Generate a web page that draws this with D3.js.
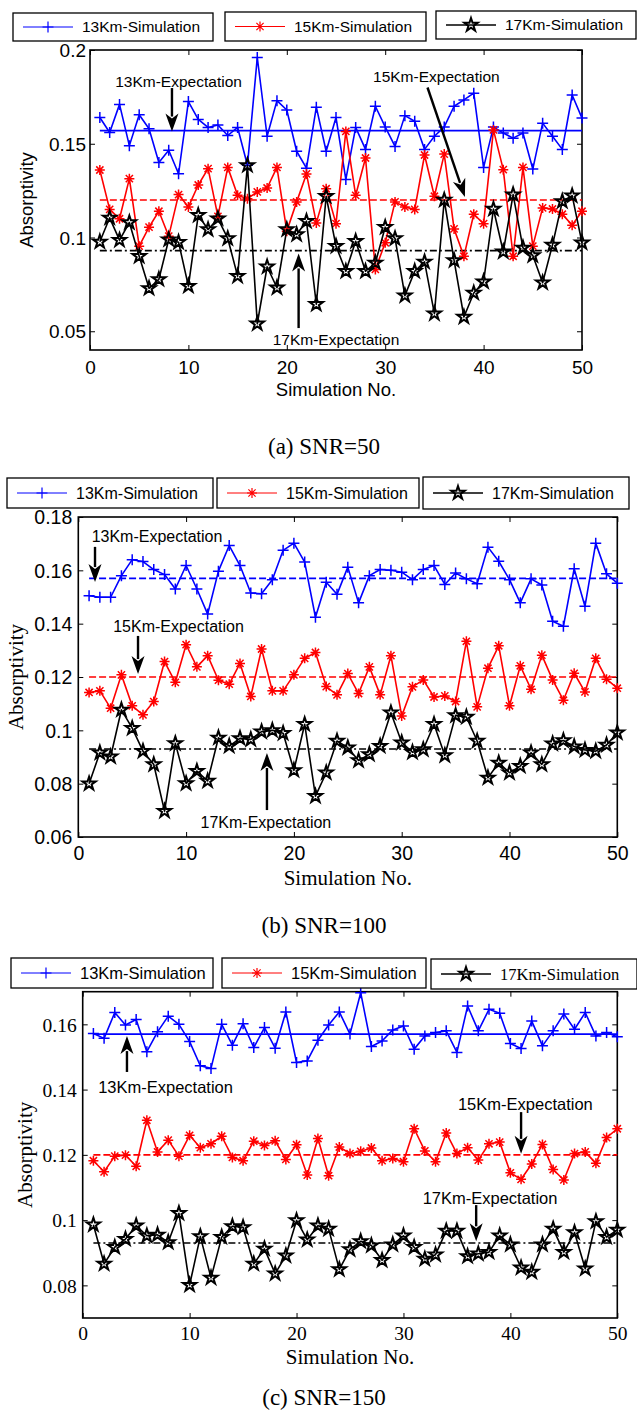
<!DOCTYPE html>
<html>
<head>
<meta charset="utf-8">
<script src="https://cdn.jsdelivr.net/npm/d3@7"></script>
<style>
  body { margin: 0; background: #fff; }
  svg { display: block; }
</style>
</head>
<body>
<div id="chart"></div>
<script>

// ---- data ----
const simNo = d3.range(1, 51);
const xTicks = [0, 10, 20, 30, 40, 50];
const seriesNames = ["13Km-Simulation", "15Km-Simulation", "17Km-Simulation"];
const expectNames = ["13Km-Expectation", "15Km-Expectation", "17Km-Expectation"];
const expectation = [0.157, 0.12, 0.093];
const captions = ["(a) SNR=50", "(b) SNR=100", "(c) SNR=150"];

// (a) SNR=50
const snr50_13 = [0.164,0.156,0.171,0.149,0.1655,0.158,0.14,0.1465,0.134,0.1725,0.163,0.1587,0.160,0.1544,0.1587,0.1385,0.196,0.154,0.173,0.168,0.146,0.137,0.1695,0.146,0.164,0.131,0.1587,0.147,0.170,0.159,0.1486,0.165,0.162,0.147,0.154,0.159,0.170,0.1734,0.177,0.1374,0.159,0.1557,0.153,0.1557,0.1365,0.161,0.154,0.147,0.176,0.1637];
const snr50_15 = [0.136,0.115,0.110,0.1314,0.0954,0.1055,0.114,0.1007,0.1229,0.1163,0.128,0.1367,0.1113,0.1374,0.1225,0.1207,0.1243,0.1264,0.1374,0.1034,0.119,0.1339,0.1078,0.126,0.1074,0.1566,0.1225,0.1424,0.083,0.0972,0.119,0.1163,0.115,0.144,0.122,0.1445,0.1046,0.090,0.1124,0.1074,0.1574,0.1362,0.090,0.1374,0.0954,0.1158,0.1152,0.1124,0.1066,0.114];
const snr50_17 = [0.0977,0.1105,0.0986,0.108,0.090,0.0729,0.0777,0.0989,0.0975,0.0741,0.1119,0.1043,0.1101,0.0995,0.0794,0.1385,0.054,0.0844,0.0732,0.1043,0.1016,0.1087,0.0644,0.122,0.0954,0.082,0.098,0.082,0.0865,0.1055,0.0995,0.069,0.082,0.087,0.0594,0.120,0.0878,0.0576,0.0704,0.0764,0.1152,0.0924,0.1229,0.0945,0.0904,0.0759,0.096,0.1193,0.1223,0.0972];

// (b) SNR=100
const snr100_13 = [0.1505,0.1499,0.1499,0.158,0.164,0.1633,0.1603,0.1584,0.153,0.1618,0.153,0.1436,0.1597,0.1693,0.1618,0.1515,0.1512,0.1565,0.1675,0.1702,0.1631,0.1424,0.1555,0.151,0.1612,0.1478,0.158,0.1603,0.160,0.1593,0.1565,0.1603,0.1618,0.1547,0.159,0.1568,0.155,0.1687,0.1634,0.1565,0.1478,0.1568,0.1545,0.1409,0.139,0.1606,0.1465,0.1702,0.1587,0.1552];
const snr100_15 = [0.1142,0.1148,0.1083,0.1208,0.1092,0.1058,0.1108,0.1258,0.118,0.1321,0.1238,0.128,0.1188,0.1173,0.1251,0.1127,0.1305,0.1148,0.1148,0.1208,0.127,0.1292,0.1164,0.1133,0.1213,0.1138,0.1238,0.1133,0.128,0.1054,0.1163,0.1189,0.1125,0.1129,0.1108,0.1334,0.1088,0.1233,0.1317,0.1092,0.1242,0.1154,0.1282,0.1189,0.1113,0.1214,0.1144,0.127,0.1192,0.1158];
const snr100_17 = [0.080,0.0916,0.0901,0.1077,0.1008,0.0922,0.0872,0.0697,0.0951,0.0801,0.0847,0.081,0.0972,0.0941,0.097,0.0966,0.0995,0.100,0.0989,0.085,0.1023,0.0753,0.0841,0.096,0.0935,0.0887,0.091,0.0941,0.1066,0.0954,0.0918,0.0928,0.1023,0.0906,0.1056,0.105,0.096,0.0822,0.0878,0.0841,0.0866,0.0916,0.0872,0.095,0.0962,0.0939,0.0926,0.0922,0.0945,0.0991];

// (c) SNR=150
const snr150_13 = [0.1572,0.1557,0.1636,0.1598,0.1615,0.1516,0.1577,0.1625,0.160,0.1547,0.1473,0.1465,0.160,0.1536,0.1602,0.1529,0.159,0.1527,0.1638,0.1483,0.1488,0.1551,0.1598,0.1638,0.157,0.1697,0.1532,0.1549,0.1583,0.1595,0.1524,0.1564,0.1575,0.158,0.1514,0.1656,0.158,0.1646,0.1634,0.1541,0.1526,0.161,0.1534,0.158,0.1632,0.1585,0.1636,0.1564,0.1575,0.1562];
const snr150_15 = [0.1182,0.1148,0.1196,0.1199,0.1165,0.1306,0.1209,0.1245,0.1196,0.126,0.1222,0.1234,0.1257,0.1192,0.1182,0.1242,0.1229,0.1243,0.1186,0.1231,0.1138,0.125,0.1136,0.1224,0.1204,0.1211,0.1221,0.1182,0.1189,0.1179,0.128,0.1212,0.1179,0.1267,0.1204,0.1222,0.1184,0.1234,0.1239,0.1145,0.1125,0.1172,0.1232,0.1155,0.1123,0.1204,0.1209,0.1174,0.1253,0.128];
const snr150_17 = [0.0986,0.0866,0.0917,0.0942,0.0983,0.0952,0.0955,0.0932,0.1021,0.0801,0.095,0.0823,0.0948,0.0981,0.0978,0.0866,0.0912,0.0836,0.0891,0.0999,0.094,0.0983,0.0973,0.0849,0.091,0.0935,0.0922,0.0877,0.0925,0.0952,0.0917,0.0881,0.0894,0.0967,0.0967,0.0889,0.0897,0.0902,0.0952,0.0925,0.0854,0.0841,0.0925,0.0973,0.0902,0.0962,0.0851,0.0996,0.0948,0.097];

const yTicksA = [0.05, 0.1, 0.15, 0.2];
const yTicksB = [0.06, 0.08, 0.1, 0.12, 0.14, 0.16, 0.18];
const yTicksC = [0.08, 0.1, 0.12, 0.14, 0.16];

// annotation text centre and arrow start/end, in data units (sim no, absorptivity)
const notesA = [
  { tx: 9.0, ty: 0.183, x1: 8.33, y1: 0.1797, x2: 8.33, y2: 0.1565 },
  { tx: 35.2, ty: 0.1856, x1: 34.3, y1: 0.180, x2: 38.1, y2: 0.1216 },
  { tx: 25.0, ty: 0.0453, x1: 21.2, y1: 0.0517, x2: 21.2, y2: 0.0915 }
];
const notesB = [
  { tx: 7.3, ty: 0.1729, x1: 1.55, y1: 0.1688, x2: 1.55, y2: 0.1556 },
  { tx: 9.3, ty: 0.1388, x1: 5.54, y1: 0.1354, x2: 5.54, y2: 0.1211 },
  { tx: 17.4, ty: 0.0656, x1: 17.5, y1: 0.0701, x2: 17.5, y2: 0.0915 }
];
const notesC = [
  { tx: 7.75, ty: 0.1408, x1: 4.14, y1: 0.1454, x2: 4.14, y2: 0.1564 },
  { tx: 41.4, ty: 0.1356, x1: 41.0, y1: 0.1331, x2: 41.0, y2: 0.1203 },
  { tx: 38.1, ty: 0.1068, x1: 36.8, y1: 0.1046, x2: 36.8, y2: 0.0935 }
];

// ---- layout / styles ----
const SANS = "'Liberation Sans', Arial, sans-serif";
const SERIF = "'Liberation Serif', 'Times New Roman', serif";
const colors = ["#0000ff", "#ff0000", "#000000"];
const dashes = { solid: null, dash: "7,3", dashdot: "7,3,2,3" };

const panels = [
  {
    series: [snr50_13, snr50_15, snr50_17], notes: notesA,
    yDomain: [0.04, 0.2], yTicks: yTicksA,
    box: { l: 90, r: 582, t: 50, b: 350 },
    expStyle: ["solid", "dash", "dashdot"],
    tickFont: SANS, tickSize: 19, yTickGap: 4, xTickDy: 17,
    labelFont: SANS, labelSize: 18.5, ylabelX: 27, xlabelY: 390,
    legend: [[13, 13, 200, 28], [225, 12, 201, 29], [436, 11, 200, 28]],
    legendFont: [SANS, SANS, SANS], legendSize: 15.5,
    noteSize: 15.5, captionY: 446
  },
  {
    series: [snr100_13, snr100_15, snr100_17], notes: notesB,
    yDomain: [0.06, 0.18], yTicks: yTicksB,
    box: { l: 78.3, r: 617.3, t: 517, b: 837 },
    expStyle: ["dash", "dash", "dashdot"],
    tickFont: SANS, tickSize: 19.5, yTickGap: 6, xTickDy: 16,
    labelFont: SERIF, labelSize: 21, ylabelX: 16, xlabelY: 878,
    legend: [[7, 478, 206, 30], [217, 478, 202, 30], [423, 477, 206, 32]],
    legendFont: [SANS, SANS, SANS], legendSize: 16,
    noteSize: 16, captionY: 925
  },
  {
    series: [snr150_13, snr150_15, snr150_17], notes: notesC,
    yDomain: [0.07, 0.17], yTicks: yTicksC,
    box: { l: 82.7, r: 617.3, t: 991.7, b: 1318 },
    expStyle: ["solid", "dash", "dashdot"],
    tickFont: SERIF, tickSize: 19.5, yTickGap: 6, xTickDy: 15,
    labelFont: SERIF, labelSize: 21, ylabelX: 25, xlabelY: 1357,
    legend: [[11, 958, 202, 30], [222, 958, 204, 30], [431, 959, 206, 30]],
    legendFont: [SANS, SANS, SERIF], legendSize: 16.5,
    noteSize: 16.5, captionY: 1397
  }
];

const width = 637, height = 1412;

const svg = d3.select("#chart").append("svg")
    .attr("width", width)
    .attr("height", height)
    .attr("viewBox", `0 0 ${width} ${height}`);

// marker shapes
function markerPath(kind) {
    if (kind === 0) {
        let s = 5.5;
        return `M${-s},0H${s}M0,${-s}V${s}`;
    }
    if (kind === 1) {
        let s = 5, k = s * 0.72;
        return `M${-s},0H${s}M0,${-s}V${s}M${-k},${-k}L${k},${k}M${-k},${k}L${k},${-k}`;
    }
    let R = 7, r = R * 0.382, pts = [];
    for (let i = 0; i < 10; i++) {
        let a = -Math.PI / 2 + i * Math.PI / 5;
        let rad = i % 2 === 0 ? R : r;
        pts.push([rad * Math.cos(a), rad * Math.sin(a)]);
    }
    return "M" + pts.map(p => p[0].toFixed(2) + "," + p[1].toFixed(2)).join("L") + "Z";
}

function drawArrow(g, x1, y1, x2, y2) {
    let ang = Math.atan2(y2 - y1, x2 - x1);
    let hl = 18, hw = 6.5;
    let bx = x2 - hl * Math.cos(ang), by = y2 - hl * Math.sin(ang);
    g.append("line")
        .attr("x1", x1).attr("y1", y1)
        .attr("x2", bx + 3 * Math.cos(ang)).attr("y2", by + 3 * Math.sin(ang))
        .attr("stroke", "#000").attr("stroke-width", 2.4);
    let px = -Math.sin(ang), py = Math.cos(ang);
    g.append("path")
        .attr("d", `M${x2},${y2}L${bx + hw * px},${by + hw * py}L${bx + 5 * Math.cos(ang)},${by + 5 * Math.sin(ang)}L${bx - hw * px},${by - hw * py}Z`)
        .attr("fill", "#000");
}

panels.forEach((p, pi) => {
    const g = svg.append("g").attr("class", "panel");

    const x = d3.scaleLinear().domain([0, 50]).range([p.box.l, p.box.r]);
    const y = d3.scaleLinear().domain(p.yDomain).range([p.box.b, p.box.t]);

    const fmt = v => String(+v.toFixed(2));

    // axes with inward ticks on all sides
    const axB = d3.axisBottom(x).tickValues(xTicks).tickFormat(d3.format("d")).tickSizeInner(-5).tickSizeOuter(0).tickPadding(0);
    const axT = d3.axisTop(x).tickValues(xTicks).tickFormat("").tickSizeInner(-5).tickSizeOuter(0);
    const axL = d3.axisLeft(y).tickValues(p.yTicks).tickFormat(fmt).tickSizeInner(-5).tickSizeOuter(0).tickPadding(0);
    const axR = d3.axisRight(y).tickValues(p.yTicks).tickFormat("").tickSizeInner(-5).tickSizeOuter(0);

    const gb = g.append("g").attr("transform", `translate(0,${p.box.b})`).call(axB);
    const gt = g.append("g").attr("transform", `translate(0,${p.box.t})`).call(axT);
    const gl = g.append("g").attr("transform", `translate(${p.box.l},0)`).call(axL);
    const gr = g.append("g").attr("transform", `translate(${p.box.r},0)`).call(axR);

    [gb, gt, gl, gr].forEach(a => {
        a.select(".domain").remove();
        a.selectAll(".tick line").attr("stroke", "#000").attr("stroke-width", 1);
    });

    gb.selectAll(".tick text")
        .attr("y", p.xTickDy).attr("dy", "0.35em")
        .attr("font-family", p.tickFont).attr("font-size", p.tickSize).attr("fill", "#000");
    gl.selectAll(".tick text")
        .attr("x", -p.yTickGap).attr("dy", "0.35em")
        .attr("font-family", p.tickFont).attr("font-size", p.tickSize).attr("fill", "#000");

    // frame
    g.append("rect")
        .attr("x", p.box.l).attr("y", p.box.t)
        .attr("width", p.box.r - p.box.l).attr("height", p.box.b - p.box.t)
        .attr("fill", "none").attr("stroke", "#000").attr("stroke-width", 1.6);

    // expectation lines
    expectation.forEach((e, si) => {
        g.append("line")
            .attr("x1", x(1)).attr("x2", x(50))
            .attr("y1", y(e)).attr("y2", y(e))
            .attr("stroke", colors[si]).attr("stroke-width", 1.6)
            .attr("stroke-dasharray", dashes[p.expStyle[si]]);
    });

    // simulation series, in plotting order 13, 15, 17
    const line = d3.line().x((d, i) => x(simNo[i])).y(d => y(d));
    [0, 1, 2].forEach(si => {
        const vals = p.series[si];
        const sg = g.append("g").attr("class", "series s" + si);
        sg.append("path")
            .datum(vals)
            .attr("d", line)
            .attr("fill", "none")
            .attr("stroke", colors[si])
            .attr("stroke-width", 1.6)
            .attr("stroke-linejoin", "round");
        sg.selectAll(".mk")
            .data(vals)
            .enter().append("path")
            .attr("class", "mk")
            .attr("transform", (d, i) => `translate(${x(simNo[i])},${y(d)})`)
            .attr("d", markerPath(si))
            .attr("fill", "none")
            .attr("stroke", colors[si])
            .attr("stroke-width", si === 2 ? 2 : 1.5)
            .attr("stroke-linejoin", "miter");
    });

    // annotations
    p.notes.forEach((n, ni) => {
        g.append("text")
            .attr("x", x(n.tx)).attr("y", y(n.ty))
            .attr("dy", "0.35em")
            .attr("text-anchor", "middle")
            .attr("font-family", SANS).attr("font-size", p.noteSize)
            .attr("fill", "#000")
            .text(expectNames[ni]);
        drawArrow(g, x(n.x1), y(n.y1), x(n.x2), y(n.y2));
    });

    // axis labels
    g.append("text")
        .attr("x", (p.box.l + p.box.r) / 2).attr("y", p.xlabelY)
        .attr("dy", "0.35em").attr("text-anchor", "middle")
        .attr("font-family", p.labelFont).attr("font-size", p.labelSize)
        .text("Simulation No.");
    g.append("text")
        .attr("transform", `translate(${p.ylabelX},${(p.box.t + p.box.b) / 2}) rotate(-90)`)
        .attr("dy", "0.35em").attr("text-anchor", "middle")
        .attr("font-family", p.labelFont).attr("font-size", p.labelSize)
        .text("Absorptivity");

    // legend boxes
    p.legend.forEach((b, si) => {
        const lg = g.append("g").attr("transform", `translate(${b[0]},${b[1]})`);
        lg.append("rect")
            .attr("width", b[2]).attr("height", b[3])
            .attr("fill", "#fff").attr("stroke", "#000").attr("stroke-width", 1.3);
        const cy = b[3] / 2;
        lg.append("line")
            .attr("x1", 10).attr("x2", 60).attr("y1", cy).attr("y2", cy)
            .attr("stroke", colors[si]).attr("stroke-width", si === 2 ? 1.6 : 1);
        lg.append("path")
            .attr("transform", `translate(35,${cy})`)
            .attr("d", markerPath(si))
            .attr("fill", "none")
            .attr("stroke", colors[si])
            .attr("stroke-width", si === 2 ? 2 : 1.2);
        lg.append("text")
            .attr("x", 69).attr("y", cy).attr("dy", "0.35em")
            .attr("font-family", p.legendFont[si]).attr("font-size", p.legendSize)
            .text(seriesNames[si]);
    });

    // caption
    g.append("text")
        .attr("x", 324).attr("y", p.captionY)
        .attr("dy", "0.35em").attr("text-anchor", "middle")
        .attr("font-family", SERIF).attr("font-size", 23)
        .text(captions[pi]);
});

</script>
</body>
</html>
